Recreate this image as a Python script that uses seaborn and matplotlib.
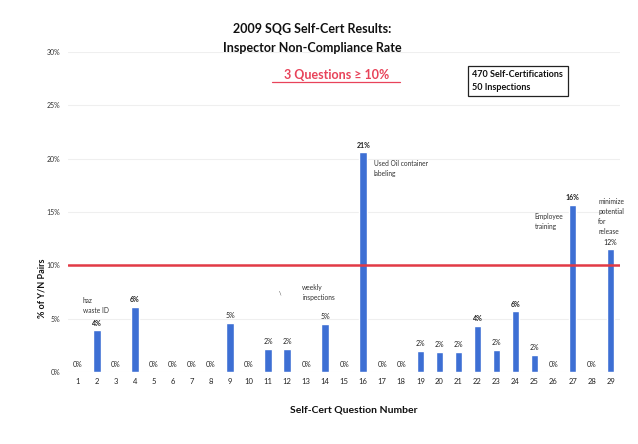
import matplotlib
matplotlib.use("Agg")
import matplotlib.pyplot as plt
import seaborn as sns
import pandas as pd

# values (percent of Y/N pairs)
questions = [str(q) for q in range(1, 30)]
rates = [0, 3.9, 0, 6.1, 0, 0, 0, 0, 4.6, 0, 2.2, 2.2, 0, 4.5, 0, 20.6,
         0, 0, 2.0, 1.9, 1.9, 4.3, 2.1, 5.7, 1.6, 0, 15.7, 0, 11.5]
bar_labels = ["0%", "4%", "0%", "6%", "0%", "0%", "0%", "0%", "5%", "0%",
              "2%", "2%", "0%", "5%", "0%", "21%", "0%", "0%", "2%", "2%",
              "2%", "4%", "2%", "6%", "2%", "0%", "16%", "0%", "12%"]
y_ticks = [0, 5, 10, 15, 20, 25, 30]
threshold = 10

# notes beside some bars: (question, text)
notes = [(2, "haz\nwaste ID"), (14, "weekly\ninspections"),
         (16, "Used Oil container\nlabeling"), (27, "Employee\ntraining"),
         (29, "minimize\npotential\nfor\nrelease")]

df = pd.DataFrame({"Question": questions, "Rate": rates})

sns.set_theme(style="white")
plt.rcParams["font.family"] = ["Lato", "DejaVu Sans"]

fig = plt.figure(figsize=(6.38, 4.44), dpi=100)
ax = fig.add_axes([0.107, 0.162, 0.865, 0.721])

sns.barplot(data=df, x="Question", y="Rate", color="#3d6fd4", width=0.4,
            saturation=1, ax=ax)

ax.set_ylim(0, 30)
ax.set_xlim(-0.5, 28.5)
ax.set_yticks(y_ticks)
ax.set_yticklabels([f"{t}%" for t in y_ticks], fontsize=5, color="#333333")
ax.tick_params(axis="x", labelsize=5.5, colors="#222222", pad=4, length=0)
ax.tick_params(axis="y", pad=6, length=0)
ax.yaxis.grid(True, color="#efefef", linewidth=0.8)
ax.set_axisbelow(True)
for s in ax.spines.values():
    s.set_visible(False)
ax.set_xlabel("")
ax.set_ylabel("")

ax.axhline(threshold, color="#e23a45", linewidth=1.8, zorder=3)

# value labels
for i, (v, lab) in enumerate(zip(rates, bar_labels)):
    bold = lab in ("4%", "6%", "21%", "16%") and v > 0
    ax.text(i, v + 0.35, lab, ha="center", va="bottom", fontsize=5,
            color="#222222", fontweight="bold" if bold else "normal")

note_pos = {2: (0.25, 7.0), 14: (11.8, 8.3), 16: (15.55, 19.9),
            27: (24.0, 14.9), 29: (27.35, 16.3)}
for q, txt in notes:
    x, y = note_pos[q]
    ax.text(x, y, txt, ha="left", va="top", fontsize=4.8, color="#333333",
            linespacing=1.5, clip_on=False)
ax.text(10.65, 7.4, "\\", ha="center", va="center", fontsize=4,
        color="#333333")

fig.text(0.49, 0.935, "2009 SQG Self-Cert Results:", ha="center", va="center",
         fontsize=9, fontweight="bold", color="#111111")
fig.text(0.49, 0.893, "Inspector Non-Compliance Rate", ha="center", va="center",
         fontsize=9, fontweight="bold", color="#111111")
fig.text(0.527, 0.832, "3 Questions \u2265 10%", ha="center", va="center",
         fontsize=9, fontweight="bold", color="#e8435a")
fig.add_artist(plt.Line2D([0.427, 0.627], [0.815, 0.815],
                          color="#e8435a", linewidth=0.9))

fig.text(0.740, 0.818, "470 Self-Certifications\n50 Inspections", ha="left",
         va="center", fontsize=6.5, fontweight="bold", color="#111111",
         linespacing=1.5,
         bbox=dict(boxstyle="square,pad=0.5", facecolor="white",
                   edgecolor="#222222", linewidth=0.9))

fig.text(0.066, 0.35, "% of Y/N Pairs", rotation=90, ha="center", va="center",
         fontsize=6.5, fontweight="bold", color="#111111")
fig.text(0.555, 0.077, "Self-Cert Question Number", ha="center", va="center",
         fontsize=7.5, fontweight="bold", color="#111111")

fig.savefig("out.png", dpi=100)
